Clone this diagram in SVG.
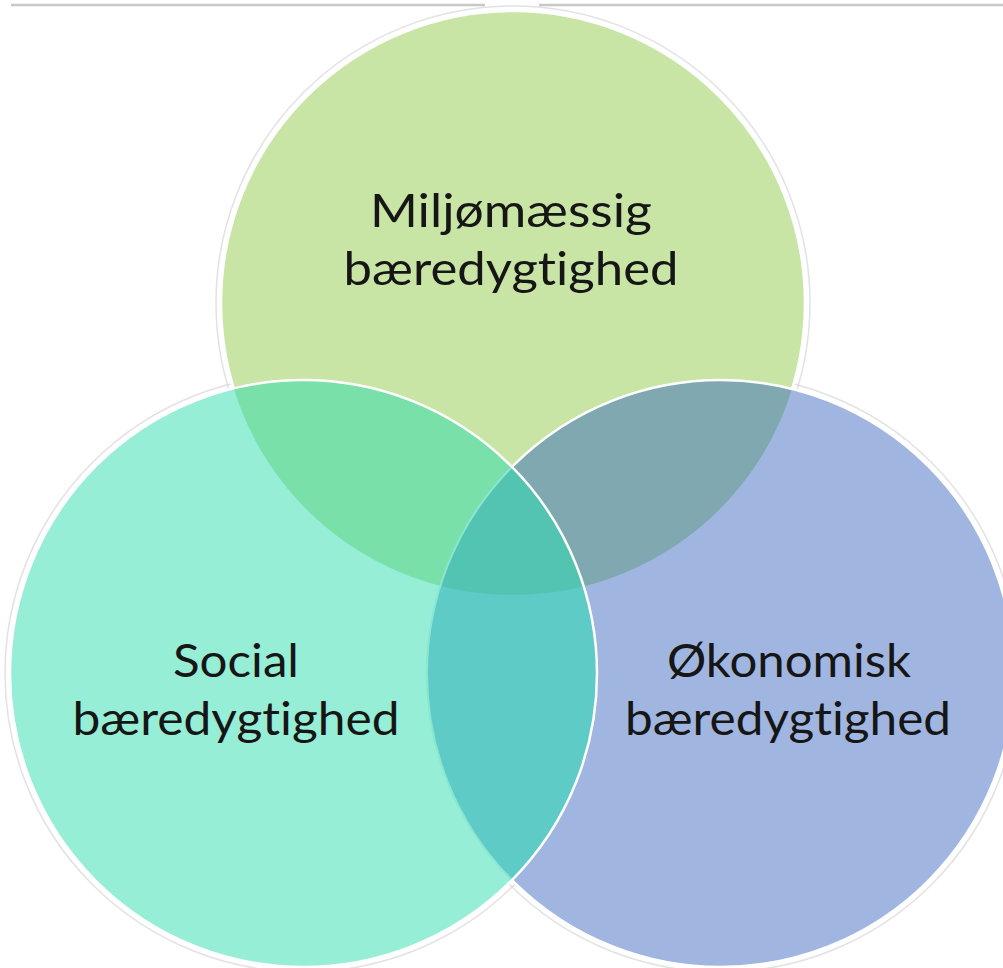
<svg xmlns="http://www.w3.org/2000/svg" width="1003" height="968" viewBox="0 0 1003 968">
<style>
.lbl{font-family:Lato,"Open Sans","Liberation Sans",sans-serif;font-size:46px;fill:#161616;text-anchor:middle;font-variant-ligatures:none}
.ring{fill:none;stroke:#cfcfcf;stroke-width:1.5;opacity:.6}
.edge{fill:none;stroke:#ffffff;stroke-width:2.5}
</style>
<defs>
<clipPath id="clipTop"><circle cx="513" cy="303" r="292"/></clipPath>
<clipPath id="clipLeft"><circle cx="303.5" cy="673.5" r="293.5"/></clipPath>
<clipPath id="clipRight"><circle cx="720.5" cy="673.5" r="293.5"/></clipPath>
</defs>
<rect width="1003" height="968" fill="#ffffff"/>
<g id="frame-line" stroke="#c8c8c8" stroke-width="2.5">
<line x1="11" y1="5" x2="485" y2="5"/>
<line x1="539" y1="5" x2="1003" y2="5"/>
</g>
<g id="shadows">
<circle class="ring" cx="513" cy="303" r="297"/>
<circle class="ring" cx="303.5" cy="673.5" r="298.5"/>
<circle class="ring" cx="720.5" cy="673.5" r="298.5"/>
</g>
<g id="node-top">
<circle cx="513" cy="303" r="292" fill="#c8e5a5" stroke="#ffffff" stroke-width="2.5"/>
<text class="lbl" x="511" y="227" textLength="282" lengthAdjust="spacingAndGlyphs">Miljømæssig</text>
<text class="lbl" x="511" y="285" textLength="335" lengthAdjust="spacingAndGlyphs">bæredygtighed</text>
</g>
<g id="node-right">
<circle cx="720.5" cy="673.5" r="293.5" fill="#a0b6e0"/>
<text class="lbl" x="789" y="677" textLength="244" lengthAdjust="spacingAndGlyphs">Økonomisk</text>
<text class="lbl" x="788" y="735" textLength="326" lengthAdjust="spacingAndGlyphs">bæredygtighed</text>
</g>
<g id="overlap-top-right">
<circle cx="720.5" cy="673.5" r="293.5" fill="#80a8b1" clip-path="url(#clipTop)"/>
<circle class="edge" cx="720.5" cy="673.5" r="293.5"/>
</g>
<g id="node-left">
<circle cx="303.5" cy="673.5" r="293.5" fill="#96eed7"/>
<text class="lbl" x="236" y="677" textLength="126" lengthAdjust="spacingAndGlyphs">Social</text>
<text class="lbl" x="236" y="735" textLength="327" lengthAdjust="spacingAndGlyphs">bæredygtighed</text>
</g>
<g id="overlaps">
<circle cx="303.5" cy="673.5" r="293.5" fill="#7ae0aa" clip-path="url(#clipTop)"/>
<circle cx="303.5" cy="673.5" r="293.5" fill="#5ecbc6" clip-path="url(#clipRight)"/>
<g clip-path="url(#clipTop)">
<circle cx="303.5" cy="673.5" r="293.5" fill="#54c4b2" clip-path="url(#clipRight)"/>
</g>
<circle cx="720.5" cy="673.5" r="293.5" fill="none" stroke="#8ae6d2" stroke-width="2" clip-path="url(#clipLeft)"/>
<circle class="edge" cx="303.5" cy="673.5" r="293.5"/>
</g>
</svg>
